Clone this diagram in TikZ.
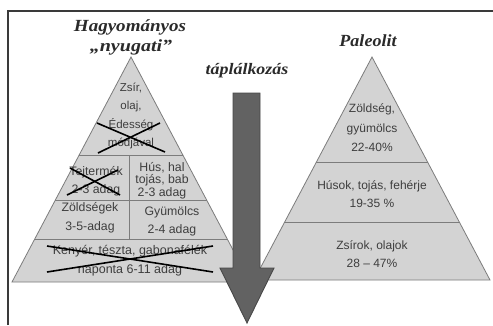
\documentclass[tikz,border=0pt]{standalone}
\usepackage{fontspec}
\setmainfont{Liberation Serif}
\setsansfont{Liberation Sans}
\begin{document}
\begin{tikzpicture}[x=1pt,y=-1pt,
  pyr/.style={fill=pyrfill,draw=pyrline,line width=0.8pt},
  band/.style={draw=pyrline,line width=0.8pt},
  ptxt/.style={inner sep=0pt,align=center,text=ptext,font=\sffamily\fontsize{#1}{#1}\selectfont},
  cross/.style={draw=black,line width=1.6pt},
  ttl/.style={inner sep=0pt,text=ttext,font=\fontsize{17}{18}\selectfont\bfseries\itshape},
  frameline/.style={draw=frm,line width=2pt}]
\definecolor{pyrfill}{HTML}{D3D3D3}
\definecolor{pyrline}{HTML}{7C7C7C}
\definecolor{ptext}{HTML}{3E3E3E}
\definecolor{ttext}{HTML}{2A2A2A}
\definecolor{frm}{HTML}{3A3A3A}
\definecolor{arrfill}{HTML}{626262}
\definecolor{arrline}{HTML}{484848}
\useasboundingbox[fill=white] (0,0) rectangle (493,325);
% frame
\coordinate (f1) at (8,325);
\coordinate (f2) at (8,11);
\coordinate (f3) at (493,11);
\draw[frameline] (f1) -- (f2) -- (f3);
% left pyramid
\coordinate (LA) at (131,57);
\coordinate (LL) at (12,282);
\coordinate (LR) at (250,282);
\draw[pyr] (LA) -- (LL) -- (LR) -- cycle;
\coordinate (l1a) at (79,155); \coordinate (l1b) at (183,155);
\coordinate (l2a) at (55,200); \coordinate (l2b) at (207,200);
\coordinate (l3a) at (35,239); \coordinate (l3b) at (227,239);
\draw[band] (l1a) -- (l1b);
\draw[band] (l2a) -- (l2b);
\draw[band] (l3a) -- (l3b);
\coordinate (dv1) at (129,155); \coordinate (dv2) at (129,239);
\draw[band] (dv1) -- (dv2);
% left texts
\node[ptxt=11, font=\sffamily\fontsize{11.5}{18.3}\selectfont] (t1) at (131,116) {Zsír,\\olaj,\\Édesség\\módjával};
\node[ptxt=12, font=\sffamily\fontsize{12.3}{18}\selectfont] (t2) at (96,181) {Tejtermék\\2-3 adag};
\node[ptxt=12, font=\sffamily\fontsize{12.3}{12.5}\selectfont] (t3) at (162,180.5) {Hús, hal\\tojás, bab\\2-3 adag};
\node[ptxt=12, font=\sffamily\fontsize{12.3}{19}\selectfont] (t4) at (90,217.5) {Zöldségek\\3-5-adag};
\node[ptxt=12, font=\sffamily\fontsize{12.3}{18}\selectfont] (t5) at (172,221) {Gyümölcs\\2-4 adag};
\node[ptxt=12, font=\sffamily\fontsize{12.5}{19}\selectfont] (t6) at (130,260.5) {Kenyér, tészta, gabonafélék\\naponta 6-11 adag};
% crosses
\coordinate (x1a) at (97,123); \coordinate (x1b) at (165,152);
\coordinate (x1c) at (98,153); \coordinate (x1d) at (160,123);
\draw[cross] (x1a) -- (x1b); \draw[cross] (x1c) -- (x1d);
\coordinate (x2a) at (70,168); \coordinate (x2b) at (120,195);
\coordinate (x2c) at (67,195); \coordinate (x2d) at (118,170);
\draw[cross] (x2a) -- (x2b); \draw[cross] (x2c) -- (x2d);
\coordinate (x3a) at (47,246); \coordinate (x3b) at (213,272);
\coordinate (x3c) at (47,272); \coordinate (x3d) at (213,246);
\draw[cross] (x3a) -- (x3b); \draw[cross] (x3c) -- (x3d);
% right pyramid
\coordinate (RA) at (372,57);
\coordinate (RL) at (254,280);
\coordinate (RR) at (490,280);
\draw[pyr] (RA) -- (RL) -- (RR) -- cycle;
\coordinate (r1a) at (316,162); \coordinate (r1b) at (428,162);
\coordinate (r2a) at (284,222); \coordinate (r2b) at (460,222);
\draw[band] (r1a) -- (r1b);
\draw[band] (r2a) -- (r2b);
\node[ptxt=12, font=\sffamily\fontsize{12}{19.5}\selectfont] (u1) at (372,128) {Zöldség,\\gyümölcs\\22-40\%};
\node[ptxt=12, font=\sffamily\fontsize{12}{18}\selectfont] (u2) at (372,194) {Húsok, tojás, fehérje\\19-35 \%};
\node[ptxt=12, font=\sffamily\fontsize{12}{18}\selectfont] (u3) at (372,254) {Zsírok, olajok\\28 – 47\%};
% titles
\node[ttl] (h1) at (130,27) {\scalebox{1.12}[1]{Hagyományos}};
\node[ttl] (h2) at (131,47) {\scalebox{1.18}[1]{„nyugati”}};
\node[ttl] (h3) at (368,41) {\scalebox{1.06}[1]{Paleolit}};
\node[ttl, font=\fontsize{16}{18}\selectfont\bfseries\itshape] (h4) at (247,71) {\scalebox{1.12}[1]{táplálkozás}};
% arrow
\coordinate (a1) at (233,93); \coordinate (a2) at (260,93);
\coordinate (a3) at (260,268); \coordinate (a4) at (274,268);
\coordinate (a5) at (247,323); \coordinate (a6) at (220,268);
\coordinate (a7) at (233,268);
\draw[fill=arrfill,draw=arrline,line width=0.9pt,line join=miter] (a1) -- (a2) -- (a3) -- (a4) -- (a5) -- (a6) -- (a7) -- cycle;
\end{tikzpicture}
\end{document}
